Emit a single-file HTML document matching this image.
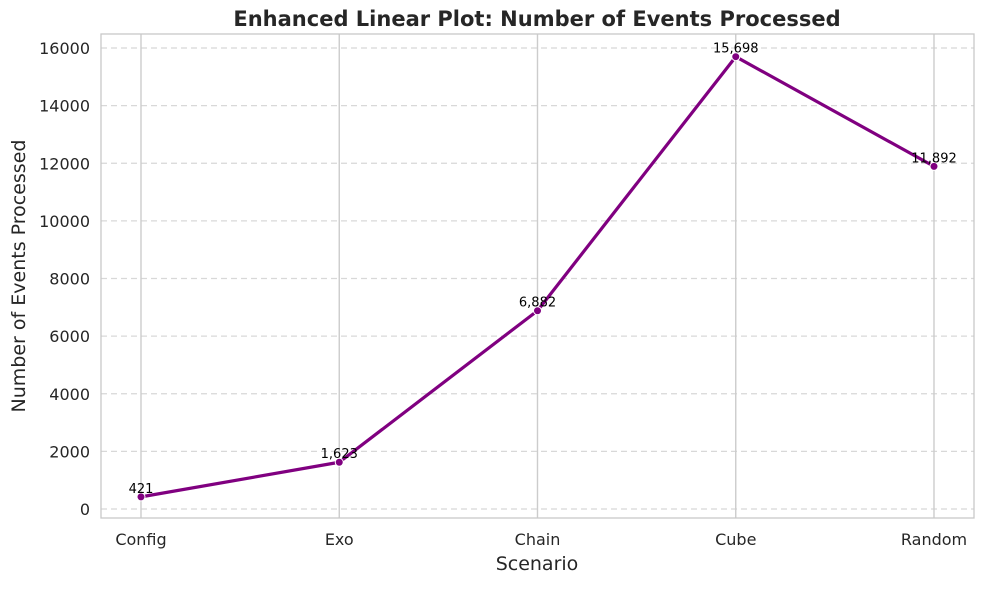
<!DOCTYPE html>
<html><head><meta charset="utf-8"><style>
body{margin:0;background:#fff;font-family:"Liberation Sans","DejaVu Sans",sans-serif;}
</style></head><body>
<svg width="984" height="584" xmlns="http://www.w3.org/2000/svg" font-family="DejaVu Sans, Liberation Sans, sans-serif">
<g id="g"></g>
</svg>
<script>
const categories=["Config","Exo","Chain","Cube","Random"];
const values=[421,1623,6882,15698,11892];
const valueLabels=["421","1,623","6,882","15,698","11,892"];
const yTicks=[0,2000,4000,6000,8000,10000,12000,14000,16000];
const L=101,R=974,T=34,B=518;
const x0=141,x1=934;
const yMin=-312,yMax=16486;
const xs=i=>x0+(x1-x0)*i/(categories.length-1);
const ys=v=>B-(v-yMin)/(yMax-yMin)*(B-T);
const g=document.getElementById('g');
const NS="http://www.w3.org/2000/svg";
function mk(t,a,p){const e=document.createElementNS(NS,t);for(const k in a)e.setAttribute(k,a[k]);(p||g).appendChild(e);return e;}
yTicks.forEach(v=>{
 const l=mk('line',{x1:L,x2:R,y1:ys(v),y2:ys(v),stroke:'#d8d8d8','stroke-dasharray':'6,4','stroke-width':1.2});
 
 
 const t=mk('text',{x:L-11,y:ys(v)+6,'text-anchor':'end','font-size':16,fill:'#262626'});t.textContent=v;
 
 
});
categories.forEach((c,i)=>{
 const l=mk('line',{x1:xs(i),x2:xs(i),y1:T,y2:B,stroke:'#cccccc','stroke-width':1.4});
 
 
 const t=mk('text',{x:xs(i),y:B+27,'text-anchor':'middle','font-size':16,fill:'#262626'});t.textContent=c;
 
 
});
const fr=mk('rect',{x:L,y:T,width:R-L,height:B-T,fill:'none',stroke:'#c8c8c8','stroke-width':1.3});


const pl=mk('polyline',{points:values.map((v,i)=>xs(i)+','+ys(v)).join(' '),fill:'none',stroke:'#800080','stroke-width':3.2,'stroke-linejoin':'round'});


values.forEach((v,i)=>{
 const c=mk('circle',{cx:xs(i),cy:ys(v),r:4,fill:'#800080',stroke:'#fff','stroke-width':1});
 
 
 const t=mk('text',{x:xs(i),y:ys(v)-4,'text-anchor':'middle','font-size':13,fill:'#000'});t.textContent=valueLabels[i];
 
 
});
const ti=mk('text',{x:537,y:26,'text-anchor':'middle','font-size':21,'font-weight':'bold',fill:'#262626'});ti.textContent='Enhanced Linear Plot: Number of Events Processed';


const xt=mk('text',{x:537,y:570,'text-anchor':'middle','font-size':19,fill:'#262626'});xt.textContent='Scenario';


const yt=mk('text',{x:25,y:276,'text-anchor':'middle','font-size':19,fill:'#262626',transform:'rotate(-90 25 276)'});yt.textContent='Number of Events Processed';


</script>
</body></html>
